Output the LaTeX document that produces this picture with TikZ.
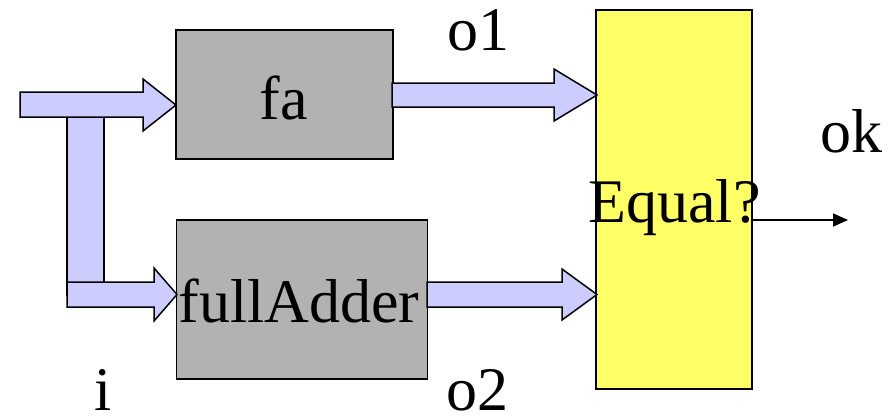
\documentclass[tikz,border=0pt]{standalone}
\usepackage{fontspec}
\setmainfont{Liberation Serif}
\usetikzlibrary{arrows.meta}
\definecolor{boxgray}{HTML}{B2B2B2}
\definecolor{lav}{HTML}{CCCCFF}
\definecolor{yel}{HTML}{FFFF66}
\begin{document}
\begin{tikzpicture}[x=1pt,y=-1pt,
  blk/.style={draw=black,line width=1.5pt,inner sep=0pt,outer sep=0pt},
  barrow/.style={draw=black,fill=lav,line width=1.5pt,line join=miter},
  lbl/.style={inner sep=0pt,font=\fontsize{62}{62}\selectfont},
]
\useasboundingbox (0,0) rectangle (891,416);
% boxes
\node[blk,fill=boxgray,minimum width=217pt,minimum height=129pt] (fa) at (284.5,94.5) {};
\node[blk,fill=boxgray,minimum width=251pt,minimum height=159pt] (fadd) at (302,299.5) {};
\node[blk,fill=yel,minimum width=156pt,minimum height=379pt] (eq) at (674,199.5) {};
% input bus
\draw[barrow] (67,105) rectangle (104,295);
\draw[barrow] (20,92) -- (143,92) -- (143,79) -- (176,105) -- (143,131) -- (143,117) -- (20,117) -- cycle;
\draw[barrow] (67,282) -- (154,282) -- (154,268) -- (177,294.5) -- (154,321) -- (154,307) -- (67,307) -- cycle;
% outputs
\draw[barrow] (392,83) -- (554,83) -- (554,69) -- (597,95) -- (554,121) -- (554,107) -- (392,107) -- cycle;
\draw[barrow] (427,282) -- (562,282) -- (562,269) -- (597,294.5) -- (562,320) -- (562,307) -- (427,307) -- cycle;
% texts
\node[lbl,anchor=base] (tfa) at (283.5,119) {fa};
\node[lbl,anchor=base] (tfadd) at (299,322) {fullAdder};
\node[lbl,anchor=base] (teq) at (674.5,222) {Equal?};
\node[lbl,anchor=base west] (to1) at (447,50) {o1};
\node[lbl,anchor=base west] (to2) at (446,410) {o2};
\node[lbl,anchor=base west] (ti) at (94,410) {i};
\node[lbl,anchor=base west] (tok) at (820,152) {ok};
% ok arrow
\coordinate (okend) at (848,220);
\draw[line width=1.8pt,-{Triangle[length=15pt,width=13pt]}] (eq.east |- okend) -- (okend);
\end{tikzpicture}
\end{document}
